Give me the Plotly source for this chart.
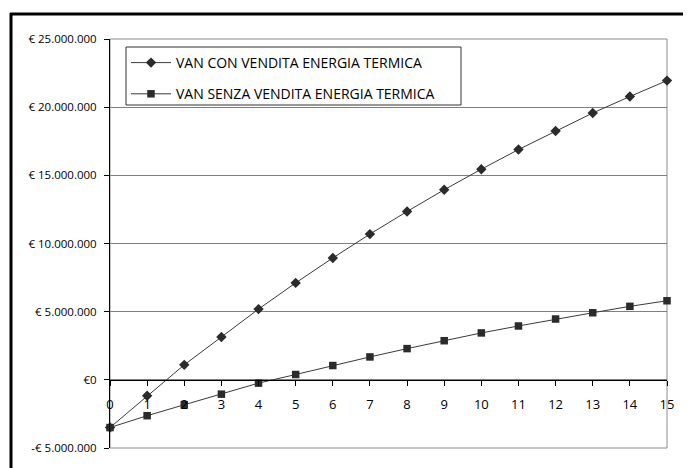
import plotly.graph_objects as go

years = list(range(0, 16))
van_con = [-3.5e6, -1.17e6, 1.1e6, 3.14e6, 5.19e6, 7.11e6, 8.94e6, 10.69e6, 12.35e6,
           13.94e6, 15.45e6, 16.89e6, 18.25e6, 19.57e6, 20.78e6, 21.95e6]
van_senza = [-3.5e6, -2.63e6, -1.83e6, -1.05e6, -0.24e6, 0.39e6, 1.05e6, 1.68e6, 2.29e6,
             2.87e6, 3.44e6, 3.95e6, 4.46e6, 4.92e6, 5.39e6, 5.8e6]
series_names = ["VAN CON VENDITA ENERGIA TERMICA", "VAN SENZA VENDITA ENERGIA TERMICA"]
y_tickvals = [-5e6, 0, 5e6, 10e6, 15e6, 20e6, 25e6]
y_ticktext = ["-€ 5.000.000", "€0", "€ 5.000.000", "€ 10.000.000", "€ 15.000.000",
              "€ 20.000.000", "€ 25.000.000"]

FONT = "Open Sans"
line_col = "#3a3a3a"

fig = go.Figure()
fig.add_trace(go.Scatter(
    x=years, y=van_con, name=series_names[0], mode="lines+markers",
    line=dict(color=line_col, width=1),
    marker=dict(symbol="diamond", size=8, color="#2b2b2b"),
    cliponaxis=False, legendgroup="a"))
fig.add_trace(go.Scatter(
    x=years, y=van_senza, name=series_names[1], mode="lines+markers",
    line=dict(color=line_col, width=1),
    marker=dict(symbol="square", size=7.5, color="#2b2b2b"),
    cliponaxis=False, legendgroup="b"))

# page offset (browser body margin)
OFF = 8
W, H = 691 - OFF, 468 - OFF
L, R, T, B = 110 - OFF, 691 - 667, 39 - OFF, 468 - 448
pw, ph = W - L - R, H - T - B

def px2paper_x(px):
    return (px - OFF - L) / pw

def px2paper_y(py):
    return (H - B - (py - OFF)) / ph

fig.update_layout(
    width=W, height=H,
    margin=dict(l=L, r=R, t=T, b=B, pad=0),
    paper_bgcolor="white", plot_bgcolor="white",
    font=dict(family=FONT, size=12, color="black"),
    showlegend=True,
    legend=dict(
        x=px2paper_x(126), y=px2paper_y(47), xanchor="left", yanchor="top",
        bgcolor="rgba(0,0,0,0)", borderwidth=0,
        font=dict(family=FONT, size=14, color="black"),
        tracegroupgap=10, itemwidth=40,
    ),
    xaxis=dict(
        range=[0, 15], tickvals=years, ticktext=[str(v) for v in years],
        anchor="free", position=1/6,
        showline=True, linecolor="black", linewidth=1,
        ticks="outside", ticklen=5, tickcolor="black",
        showgrid=False, zeroline=False,
        ticklabelstandoff=8,
        tickfont=dict(family=FONT, size=13),
    ),
    yaxis=dict(
        range=[-5e6, 25e6], tickvals=y_tickvals, ticktext=y_ticktext,
        showline=True, linecolor="black", linewidth=1,
        ticks="outside", ticklen=5, tickcolor="black",
        showgrid=True, gridcolor="#7f7f7f", gridwidth=1,
        zeroline=False,
        ticklabelstandoff=5,
        tickfont=dict(family=FONT, size=11.5),
    ),
    shapes=[
        dict(type="rect", xref="paper", yref="paper", x0=0, x1=1, y0=0, y1=1,
             line=dict(color="#8c8c8c", width=1), layer="below"),
        # legend frame
        dict(type="rect", xref="paper", yref="paper",
             x0=px2paper_x(126), x1=px2paper_x(461), y0=px2paper_y(105), y1=px2paper_y(47),
             line=dict(color="#333333", width=1), fillcolor="white", layer="above"),
        dict(type="line", xref="paper", yref="paper",
             x0=px2paper_x(11), x1=px2paper_x(11), y0=px2paper_y(13), y1=px2paper_y(480),
             line=dict(color="black", width=3)),
        dict(type="line", xref="paper", yref="paper",
             x0=px2paper_x(10), x1=px2paper_x(700), y0=px2paper_y(14), y1=px2paper_y(14),
             line=dict(color="black", width=3)),
    ],
)

fig.write_html("out.html")
